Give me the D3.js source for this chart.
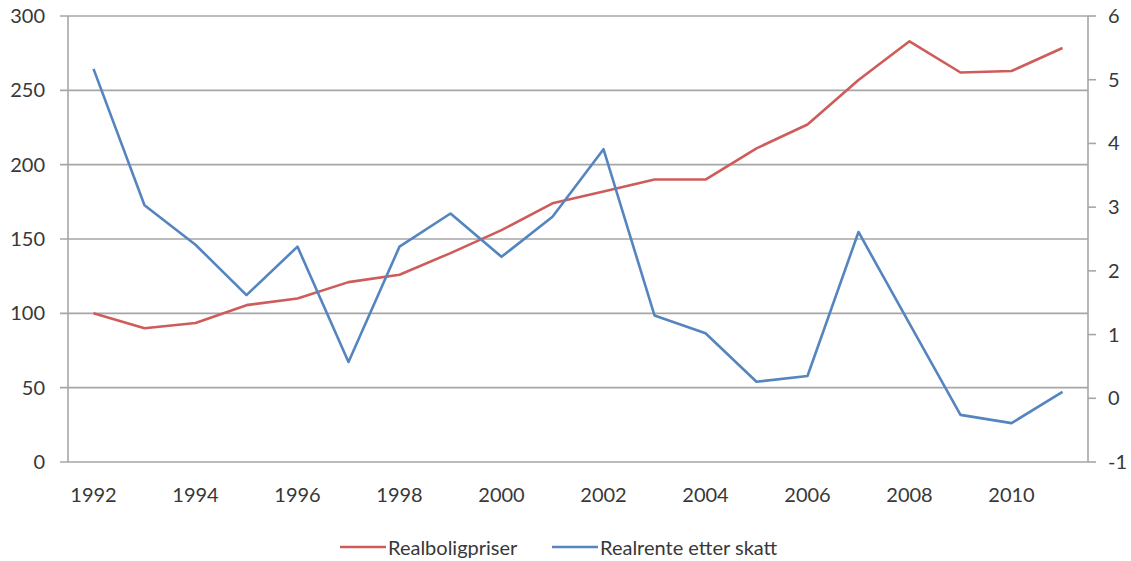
<!DOCTYPE html>
<html>
<head>
<meta charset="utf-8">
<script src="https://cdn.jsdelivr.net/npm/d3@7"></script>
<style>
  html, body { margin: 0; padding: 0; background: #fff; }
  svg text { font-family: Lato, "Open Sans", sans-serif; fill: #383838; }
</style>
</head>
<body>
<svg id="chart" width="1131" height="561"></svg>
<script>
// Years on the category axis
const years = d3.range(1992, 2012);
// Real house prices, index (left axis)
const realboligpriser = [100, 90, 93.5, 105.5, 110, 121, 126, 140.5, 156, 174, 182, 190, 190, 211, 227, 257, 283, 262, 263, 278.5];
// Real interest rate after tax, percent (right axis)
const realrente = [5.17, 3.03, 2.41, 1.62, 2.38, 0.57, 2.38, 2.9, 2.22, 2.85, 3.91, 1.3, 1.02, 0.26, 0.35, 2.61, 1.17, -0.26, -0.39, 0.1];
// Axis ticks
const leftTicks = [0, 50, 100, 150, 200, 250, 300];
const rightTicks = [-1, 0, 1, 2, 3, 4, 5, 6];
const xTickYears = years.filter(y => y % 2 === 0);

const seriesNames = ["Realboligpriser", "Realrente etter skatt"];
const colors = ["#cd5c5a", "#5485bf"];

const svg = d3.select("#chart");
const plotLeft = 68, plotRight = 1088, plotTop = 16, plotBottom = 462;
const fontSize = 20;

const x = d3.scalePoint().domain(years).range([plotLeft, plotRight]).padding(0.5);
const yL = d3.scaleLinear().domain([0, 300]).range([plotBottom, plotTop]);
const yR = d3.scaleLinear().domain([-1, 6]).range([plotBottom, plotTop]);

const gridColor = "#a6a6a6";

// horizontal gridlines with short outer ticks on the left
svg.append("g")
  .selectAll("line")
  .data(leftTicks)
  .join("line")
  .attr("x1", plotLeft - 8).attr("x2", plotRight)
  .attr("y1", d => yL(d)).attr("y2", d => yL(d))
  .attr("stroke", gridColor).attr("stroke-width", 1.6);

// left and right axis lines
svg.append("line").attr("x1", plotLeft).attr("x2", plotLeft).attr("y1", plotTop).attr("y2", plotBottom)
  .attr("stroke", gridColor).attr("stroke-width", 1.6);
svg.append("line").attr("x1", plotRight).attr("x2", plotRight).attr("y1", plotTop).attr("y2", plotBottom)
  .attr("stroke", gridColor).attr("stroke-width", 1.6);

// left tick labels
svg.append("g").selectAll("text")
  .data(leftTicks).join("text")
  .attr("x", 45).attr("y", d => yL(d))
  .attr("dy", "0.35em").attr("text-anchor", "end")
  .attr("font-size", fontSize)
  .text(d => d);

// right ticks and labels
svg.append("g").selectAll("line")
  .data(rightTicks).join("line")
  .attr("x1", plotRight).attr("x2", plotRight + 8)
  .attr("y1", d => yR(d)).attr("y2", d => yR(d))
  .attr("stroke", gridColor).attr("stroke-width", 1.6);
svg.append("g").selectAll("text")
  .data(rightTicks).join("text")
  .attr("x", plotRight + 20).attr("y", d => yR(d))
  .attr("dy", "0.35em").attr("text-anchor", "start")
  .attr("font-size", fontSize)
  .text(d => d);

// x labels
svg.append("g").selectAll("text")
  .data(xTickYears).join("text")
  .attr("x", d => x(d)).attr("y", 495)
  .attr("dy", "0.35em").attr("text-anchor", "middle")
  .attr("font-size", fontSize)
  .text(d => d);

// lines
const lineL = d3.line().x((d, i) => x(years[i])).y(d => yL(d));
const lineR = d3.line().x((d, i) => x(years[i])).y(d => yR(d));

svg.append("path").datum(realboligpriser)
  .attr("d", lineL).attr("fill", "none")
  .attr("stroke", colors[0]).attr("stroke-width", 2.6).attr("stroke-linejoin", "round");
svg.append("path").datum(realrente)
  .attr("d", lineR).attr("fill", "none")
  .attr("stroke", colors[1]).attr("stroke-width", 2.6).attr("stroke-linejoin", "round");

// legend
const legend = svg.append("g");
const legendItems = [
  { name: seriesNames[0], color: colors[0], x: 340 },
  { name: seriesNames[1], color: colors[1], x: 552 }
];
legendItems.forEach(it => {
  legend.append("line")
    .attr("x1", it.x).attr("x2", it.x + 46)
    .attr("y1", 547).attr("y2", 547)
    .attr("stroke", it.color).attr("stroke-width", 2.6);
  legend.append("text")
    .attr("x", it.x + 48).attr("y", 548)
    .attr("dy", "0.35em").attr("font-size", fontSize)
    .text(it.name);
});
</script>
</body>
</html>
